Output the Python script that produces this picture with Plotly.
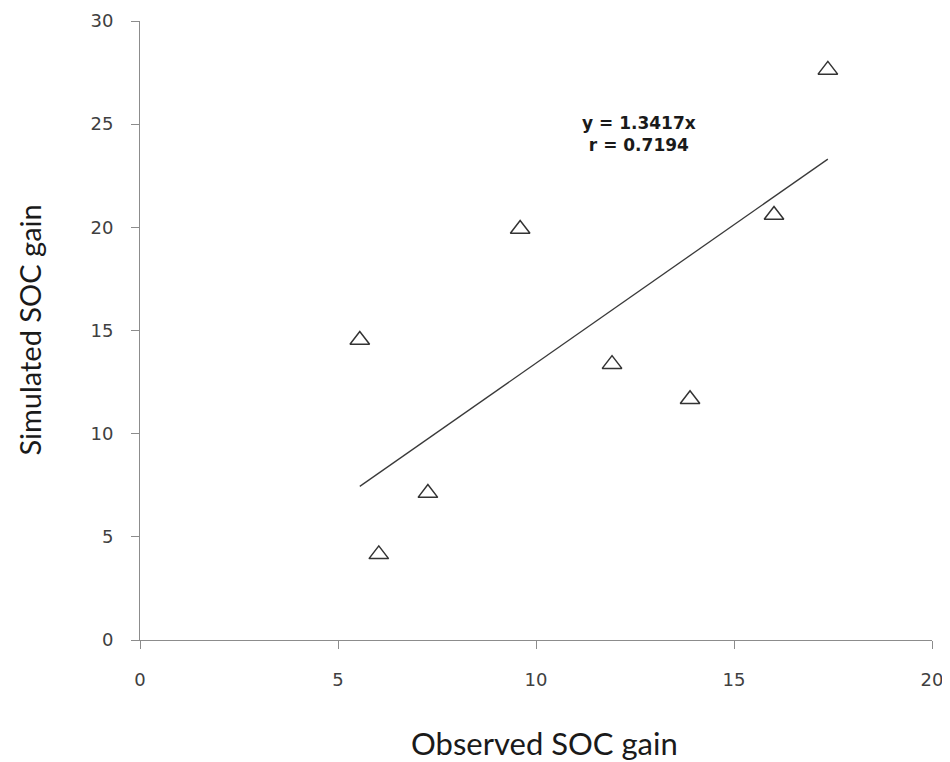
import plotly.graph_objects as go

observed = [5.55, 6.03, 7.27, 9.6, 11.92, 13.89, 16.01, 17.37]
simulated = [14.54, 4.15, 7.12, 19.92, 13.37, 11.67, 20.6, 27.63]
slope = 1.3417
r_value = 0.7194

x_ticks = [0, 5, 10, 15, 20]
y_ticks = [0, 5, 10, 15, 20, 25, 30]

xmin, xmax = min(observed), max(observed)
trend_x = [xmin, xmax]
trend_y = [slope * xmin, slope * xmax]

fig = go.Figure()
fig.add_trace(go.Scatter(x=trend_x, y=trend_y, mode="lines",
                         line=dict(color="#3a3a3a", width=1.3), hoverinfo="skip"))
fig.add_trace(go.Scatter(x=observed, y=simulated, mode="markers",
                         marker=dict(symbol="triangle-up-open", size=17,
                                     color="#333333", line=dict(width=1.5, color="#333333"))))

fig.add_annotation(x=12.6, y=24.5, xref="x", yref="y",
                   text=f"y = {slope}x<br>r = {r_value}", showarrow=False,
                   font=dict(family="DejaVu Sans, Verdana, sans-serif", size=17, color="#1a1a1a",
                             weight="bold"),
                   align="center")

title_font = dict(family="Lato, Open Sans, sans-serif", color="#1a1a1a")
fig.add_annotation(x=0.511, y=-0.166, xref="paper", yref="paper",
                   text="Observed SOC gain", showarrow=False,
                   xanchor="center", yanchor="middle",
                   font=dict(size=31, **title_font))
fig.add_annotation(x=-0.140, y=0.5, xref="paper", yref="paper",
                   text="Simulated SOC gain", showarrow=False, textangle=-90,
                   xanchor="center", yanchor="middle",
                   font=dict(size=29, **title_font))

axis_common = dict(showgrid=False, zeroline=False, showline=True, linecolor="#8c8c8c",
                   linewidth=1, ticks="outside", tickcolor="#8c8c8c", ticklen=8,
                   automargin=False,
                   tickfont=dict(family="DejaVu Sans, Verdana, sans-serif", size=18, color="#404040"))

fig.update_layout(
    width=942, height=754,
    margin=dict(l=132, r=18, t=13, b=122),
    plot_bgcolor="white", paper_bgcolor="white",
    showlegend=False,
    xaxis=dict(range=[0, 20], tickvals=x_ticks, ticklabelstandoff=15, **axis_common),
    yaxis=dict(range=[0, 30], tickvals=y_ticks, ticklabelstandoff=14, **axis_common),
)

fig.write_html("out.html")
